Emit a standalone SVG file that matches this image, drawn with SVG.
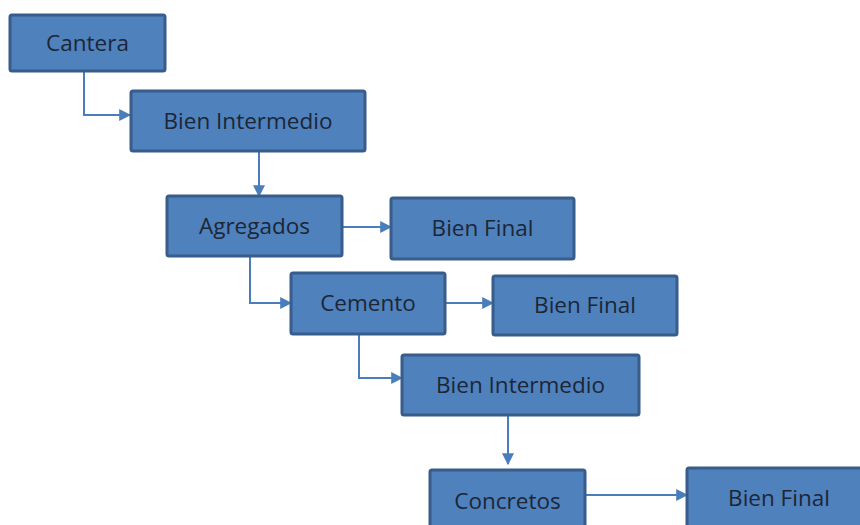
<svg xmlns="http://www.w3.org/2000/svg" width="860" height="525" viewBox="0 0 860 525">
<defs>
<marker id="arr" viewBox="0 0 10 10" refX="9" refY="5" markerWidth="12" markerHeight="12" markerUnits="userSpaceOnUse" orient="auto">
<path d="M0,0 L10,5 L0,10 z" fill="#4A7EBB"/>
</marker>
</defs>
<style>
.box{fill:#4F81BD;stroke:#385D8A;stroke-width:3}
.lbl{font-family:"Open Sans","Liberation Sans",sans-serif;font-size:22.5px;fill:#1C2636;text-anchor:middle}
.con{fill:none;stroke:#4A7EBB;stroke-width:2;marker-end:url(#arr)}
</style>
<rect width="860" height="525" fill="#ffffff"/>
<g id="connectors">
<path class="con" d="M84,71 V115 H130"/>
<path class="con" d="M259,151 V196"/>
<path class="con" d="M342,227 H391"/>
<path class="con" d="M250,256 V303 H291"/>
<path class="con" d="M445,303 H493"/>
<path class="con" d="M359,334 V378 H402"/>
<path class="con" d="M508,415 V464"/>
<path class="con" d="M585,495 H687"/>
</g>
<g id="cantera"><rect class="box" x="10" y="15" width="155" height="56" rx="2"/><text class="lbl" x="87.5" y="51">Cantera</text></g>
<g id="bien-intermedio-1"><rect class="box" x="131" y="91" width="234" height="60" rx="2"/><text class="lbl" x="248" y="129">Bien Intermedio</text></g>
<g id="agregados"><rect class="box" x="167" y="196" width="175" height="60" rx="2"/><text class="lbl" x="254.5" y="234">Agregados</text></g>
<g id="bien-final-1"><rect class="box" x="391" y="198" width="183" height="61" rx="2"/><text class="lbl" x="482.5" y="236">Bien Final</text></g>
<g id="cemento"><rect class="box" x="291" y="273" width="154" height="61" rx="2"/><text class="lbl" x="368" y="311">Cemento</text></g>
<g id="bien-final-2"><rect class="box" x="493" y="276" width="184" height="59" rx="2"/><text class="lbl" x="585" y="313">Bien Final</text></g>
<g id="bien-intermedio-2"><rect class="box" x="402" y="355" width="237" height="60" rx="2"/><text class="lbl" x="520.5" y="393">Bien Intermedio</text></g>
<g id="concretos"><rect class="box" x="430" y="470" width="155" height="62" rx="2"/><text class="lbl" x="507.5" y="509">Concretos</text></g>
<g id="bien-final-3"><rect class="box" x="687" y="468" width="185" height="62" rx="2"/><text class="lbl" x="779" y="506">Bien Final</text></g>
</svg>
